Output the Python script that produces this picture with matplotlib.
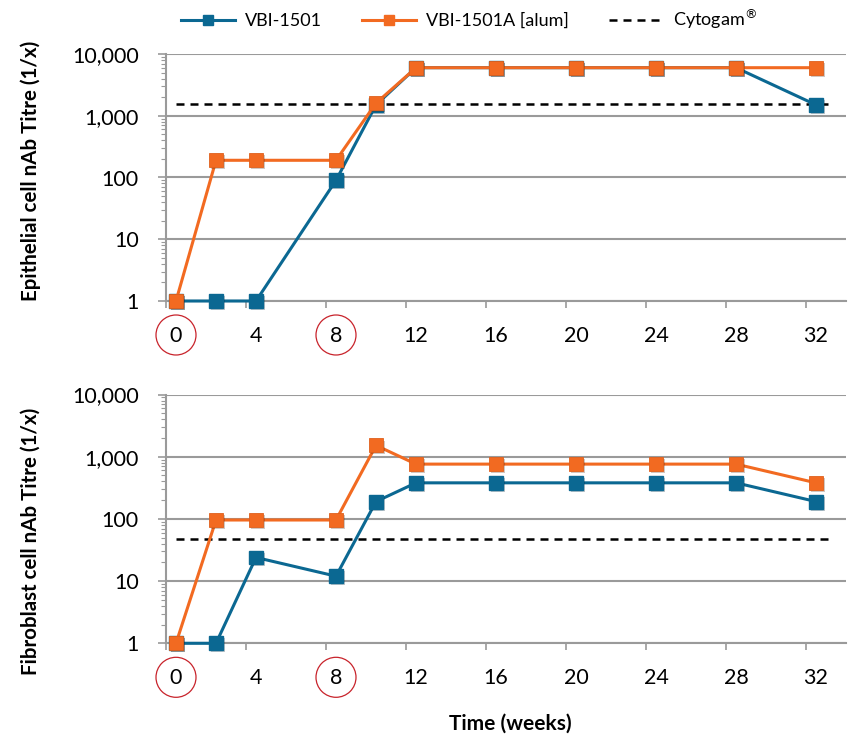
import numpy as np
import matplotlib
matplotlib.use("Agg")
import matplotlib.pyplot as plt
import matplotlib.patheffects as pe
from matplotlib.patches import Ellipse
from matplotlib.transforms import blended_transform_factory

plt.rcParams['font.family'] = ['Lato', 'DejaVu Sans']

# data
weeks = [0, 2, 4, 8, 10, 12, 16, 20, 24, 28, 32]
epi_vbi = [1, 1, 1, 90, 1500, 6000, 6000, 6000, 6000, 6000, 1500]
epi_alum = [1, 190, 190, 190, 1600, 6000, 6000, 6000, 6000, 6000, 6000]
epi_cytogam = 1550
fib_vbi = [1, 1, 24, 12, 190, 380, 380, 380, 380, 380, 190]
fib_alum = [1, 96, 96, 96, 1520, 760, 760, 760, 760, 760, 380]
fib_cytogam = 48
ytick_vals = [1, 10, 100, 1000, 10000]
ytick_labels = ['1', '10', '100', '1,000', '10,000']
xtick_vals = [0, 4, 8, 12, 16, 20, 24, 28, 32]
circled = [0, 8]

BLUE = '#0B6892'
ORANGE = '#F26A21'
GRID = '#9A9A9A'

fig = plt.figure(figsize=(8.52, 7.38), dpi=100)
ax_top = fig.add_axes([166 / 852, 1 - 301 / 738, 680 / 852, 247 / 738])
ax_bot = fig.add_axes([166 / 852, 1 - 643.3 / 738, 680 / 852, 248.8 / 738])

shadow = [pe.SimplePatchShadow(offset=(1.5, -1.5), alpha=0.25), pe.Normal()]


def draw_panel(ax, vbi, alum, cyto, ylabel, label_y):
    ax.plot([0, 32.7], [cyto, cyto], color='black', lw=1.8,
            dashes=(3.2, 2.4), zorder=2)
    ax.plot(weeks, vbi, color=BLUE, lw=2.2, zorder=3, clip_on=False)
    ax.plot(weeks, vbi, ls='none', marker='s', ms=10, color=BLUE,
            mec=BLUE, zorder=3.5, path_effects=shadow, clip_on=False)
    ax.plot(weeks, alum, color=ORANGE, lw=2.2, zorder=4, clip_on=False)
    ax.plot(weeks, alum, ls='none', marker='s', ms=10, color=ORANGE,
            mec='#E0601C', mew=0.6, zorder=4.5, path_effects=shadow,
            clip_on=False)

    ax.set_yscale('log')
    ax.set_ylim(1, 10000)
    ax.set_xlim(-0.5, 33.5)
    ax.set_yticks(ytick_vals)
    ax.set_yticklabels(ytick_labels)
    ax.yaxis.set_minor_locator(matplotlib.ticker.LogLocator(base=10, subs=np.arange(2, 10)))
    ax.yaxis.set_minor_formatter(matplotlib.ticker.NullFormatter())
    ax.set_xticks(xtick_vals)
    ax.set_xticks(np.arange(-0.5, 32, 4), minor=True)

    ax.tick_params(axis='y', which='major', length=6, width=1.2, color=GRID,
                   pad=13.5, labelsize=15.5)
    ax.tick_params(axis='y', which='minor', length=3.5, width=0.8, color=GRID)
    ax.tick_params(axis='x', which='major', length=0, pad=18, labelsize=15.5)
    ax.tick_params(axis='x', which='minor', length=5, width=1.2, color=GRID)

    ax.grid(axis='y', which='major', color=GRID, lw=1.5)
    ax.set_axisbelow(True)
    for s in ['top', 'right']:
        ax.spines[s].set_visible(False)
    for s in ['left', 'bottom']:
        ax.spines[s].set_color(GRID)
        ax.spines[s].set_linewidth(1.5)

    ax.set_ylabel(ylabel, fontsize=14.8, fontweight='bold')
    ax.yaxis.set_label_coords(-0.184, label_y)

    trans = blended_transform_factory(ax.transData, ax.transAxes)
    h = ax.get_position().height * 738
    for c in circled:
        ax.add_patch(Ellipse((c, -34 / h), 2.0, 40 / h, transform=trans,
                             fill=False, ec='#C8232B', lw=0.9, clip_on=False))


draw_panel(ax_top, epi_vbi, epi_alum, epi_cytogam,
           'Epithelial cell nAb Titre (1/x)', 0.526)
draw_panel(ax_bot, fib_vbi, fib_alum, fib_cytogam,
           'Fibroblast cell nAb Titre (1/x)', 0.41)

fig.text(510 / 852, 1 - 724 / 738, 'Time (weeks)', ha='center', va='center',
         fontsize=15, fontweight='bold')

handles = [
    plt.Line2D([], [], color=BLUE, lw=2.2, marker='s', ms=7),
    plt.Line2D([], [], color=ORANGE, lw=2.2, marker='s', ms=7),
    plt.Line2D([], [], color='black', lw=1.8, dashes=(3.2, 2.4)),
]
fig.legend(handles, ['VBI-1501', 'VBI-1501A [alum]', 'Cytogam$^{®}$'],
           loc='center', bbox_to_anchor=(469 / 852, 1 - 19 / 738), ncol=3,
           frameon=False, fontsize=13, handlelength=3.0, handletextpad=0.55,
           columnspacing=2.2, borderaxespad=0, borderpad=0)

fig.savefig('out.png', dpi=100)
